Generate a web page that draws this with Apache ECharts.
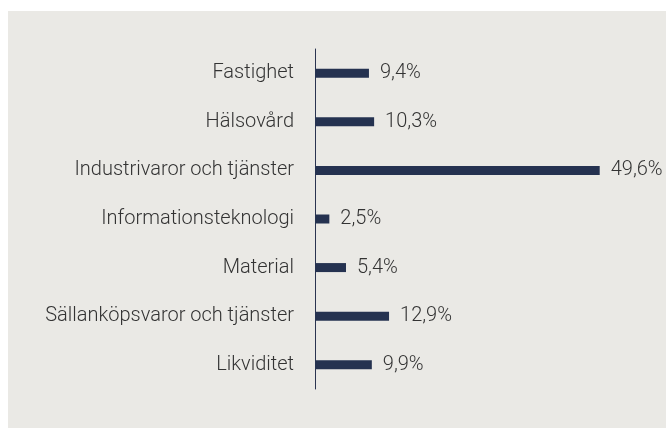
<!DOCTYPE html>
<html>
<head>
<meta charset="utf-8">
<script src="https://cdn.jsdelivr.net/npm/echarts@6/dist/echarts.min.js"></script>
<style>
  html, body { margin: 0; padding: 0; background: #ffffff; }
  #chart { position: absolute; left: 8px; top: 11px; width: 658px; height: 417px; }
</style>
</head>
<body>
<div id="chart"></div>
<script>
// sektorer, uppifrån och ned
var categories = [
  "Fastighet",
  "Hälsovård",
  "Industrivaror och tjänster",
  "Informationsteknologi",
  "Material",
  "Sällanköpsvaror och tjänster",
  "Likviditet"
];
var values = [9.4, 10.3, 49.6, 2.5, 5.4, 12.9, 9.9];

var chart = echarts.init(document.getElementById("chart"));
var option = {
  backgroundColor: "#eae9e5",
  animation: false,
  grid: {
    left: 307,
    top: 38,
    width: 287,
    height: 340
  },
  xAxis: {
    type: "value",
    min: 0,
    max: 50,
    show: false
  },
  yAxis: {
    type: "category",
    data: categories,
    inverse: true,
    axisTick: { show: false },
    axisLine: {
      lineStyle: { color: "#2b3450", width: 1 }
    },
    axisLabel: {
      margin: 21,
      color: "#333333",
      fontFamily: "Roboto",
      fontWeight: 300,
      fontSize: 20
    }
  },
  series: [
    {
      type: "bar",
      data: values,
      barWidth: 9,
      itemStyle: { color: "#253250" },
      label: {
        show: true,
        position: "right",
        distance: 11,
        color: "#333333",
        fontFamily: "Roboto",
        fontWeight: 300,
        fontSize: 20,
        formatter: function (p) {
          return String(p.value).replace(".", ",") + "%";
        }
      }
    }
  ]
};
chart.setOption(option);
</script>
</body>
</html>
